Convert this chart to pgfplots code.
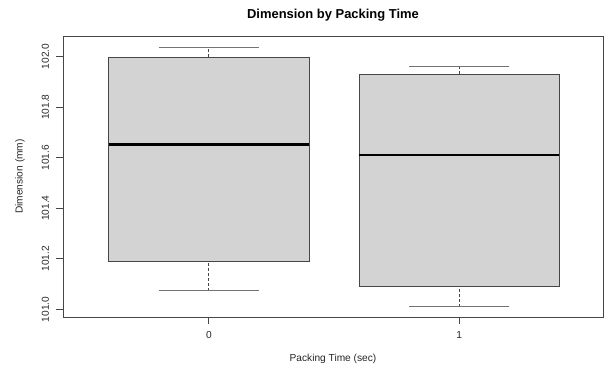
\documentclass[border=0pt]{standalone}
\usepackage{pgfplots}
\pgfplotsset{compat=1.18}
\usepackage{fontspec}
\setmainfont{Liberation Sans}

\definecolor{boxfill}{RGB}{211,211,211}
\definecolor{frame}{RGB}{70,70,70}

\pgfplotsset{
  boxbody/.style={draw=frame, fill=boxfill, line width=0.8bp},
  medianline/.style={black, line width=2.4bp},
  whiskerline/.style={frame, line width=0.8bp, dash pattern=on 3bp off 2bp},
  capline/.style={black!55, line width=0.8bp},
}

\begin{document}
\begin{tikzpicture}
\begin{axis}[
  scale only axis,
  width=540bp, height=281bp,
  xmin=-0.583, xmax=1.575,
  ymin=100.9698, ymax=102.0812,
  axis line style={frame, line width=0.8bp},
  xtick={0,1}, xticklabels={0,1},
  ytick={101,101.2,101.4,101.6,101.8,102},
  /pgf/number format/assume math mode=true,
  xtick pos=bottom, ytick pos=left,
  tick align=outside,
  major tick length=6.6bp,
  tick style={frame, line width=0.8bp},
  every tick label/.append style={font=\fontsize{10.2}{12}\selectfont, text=black!85},
  yticklabel style={xshift=-7.4bp, rotate=90, anchor=base, inner sep=0pt,
    /pgf/number format/fixed, /pgf/number format/fixed zerofill,
    /pgf/number format/precision=1},
  xticklabel style={yshift=-14.4bp, anchor=base, inner sep=0pt},
  title={Dimension by Packing Time},
  every axis title/.style={font=\bfseries\fontsize{13}{15}\selectfont,
    at={(axis description cs:0.5,1.0623)}, anchor=base, inner sep=0pt},
  xlabel={Packing Time (sec)},
  ylabel={Dimension (mm)},
  every axis x label/.style={font=\fontsize{10.2}{12}\selectfont, text=black!85,
    at={(axis description cs:0.5,-0.1601)}, anchor=base, inner sep=0pt},
  every axis y label/.style={font=\fontsize{10.2}{12}\selectfont, text=black!85,
    at={(axis description cs:-0.0796,0.5)}, rotate=90, anchor=center, inner sep=0pt},
]
% ---- Packing time 0 s: whiskers 101.074 / 102.038, box 101.188 -- 101.998, median 101.652
\addplot[whiskerline] coordinates {(0,101.074) (0,101.188)};
\addplot[whiskerline] coordinates {(0,101.998) (0,102.038)};
\addplot[capline] coordinates {(-0.2,101.074) (0.2,101.074)};
\addplot[capline] coordinates {(-0.2,102.038) (0.2,102.038)};
\addplot[boxbody] coordinates {(-0.4,101.188) (0.4,101.188) (0.4,101.998) (-0.4,101.998)} -- cycle;
\addplot[medianline] coordinates {(-0.4,101.652) (0.4,101.652)};
% ---- Packing time 1 s: whiskers 101.010 / 101.962, box 101.091 -- 101.931, median 101.611
\addplot[whiskerline] coordinates {(1,101.010) (1,101.091)};
\addplot[whiskerline] coordinates {(1,101.931) (1,101.962)};
\addplot[capline] coordinates {(0.8,101.010) (1.2,101.010)};
\addplot[capline] coordinates {(0.8,101.962) (1.2,101.962)};
\addplot[boxbody] coordinates {(0.6,101.091) (1.4,101.091) (1.4,101.931) (0.6,101.931)} -- cycle;
\addplot[medianline] coordinates {(0.6,101.611) (1.4,101.611)};
\end{axis}
\pgfresetboundingbox
\path ([xshift=-63bp, yshift=-52bp]current axis.south west)
  rectangle ([xshift=3bp, yshift=36bp]current axis.north east);
\end{tikzpicture}
\end{document}
